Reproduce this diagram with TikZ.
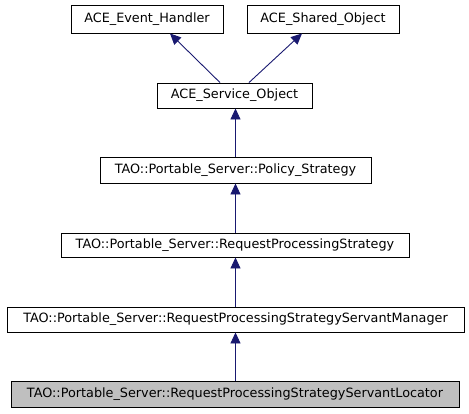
\documentclass[tikz,border=0pt]{standalone}
\usepackage{fontspec}
\setmainfont{DejaVu Sans}
\usetikzlibrary{arrows.meta,positioning}
\definecolor{edgeblue}{HTML}{191970}
\definecolor{leafgray}{HTML}{BFBFBF}

\begin{document}
\begin{tikzpicture}[x=1pt, y=-1pt,
    cls/.style={draw, line width=0.9pt, inner sep=0pt, minimum height=25pt,
      font=\fontsize{12.8}{14}\selectfont},
    inh/.style={draw=edgeblue, line width=0.9pt,
      {Triangle[width=10pt,length=11pt,fill=edgeblue]}-}]
  \useasboundingbox (0,0) rectangle (469,413);
  \node [cls, minimum width=152pt, minimum height=28pt] (evh) at (147,19) {ACE\_Event\_Handler};
  \node [cls, minimum width=152pt, minimum height=28pt] (sho) at (323,19) {ACE\_Shared\_Object};
  \node [cls, minimum width=155pt] (svc) at (234.5,95.5) {ACE\_Service\_Object};
  \node [cls, minimum width=271pt, minimum height=26pt] (pol) at (235.5,170) {TAO::Portable\_Server::Policy\_Strategy};
  \node [cls, minimum width=348pt, minimum height=24pt] (rps) at (235,245) {TAO::Portable\_Server::RequestProcessingStrategy};
  \node [cls, minimum width=457pt] (rpsm) at (235.5,319.5) {TAO::Portable\_Server::RequestProcessingStrategyServantManager};
  \node [cls, fill=leafgray, minimum width=448pt, minimum height=26pt] (rpsl) at (235,394) {TAO::Portable\_Server::RequestProcessingStrategyServantLocator};
  % inheritance edges
  \draw [inh] ([xshift=23pt]evh.south) -- ([xshift=-14.5pt]svc.north);
  \draw [inh] ([xshift=-21pt]sho.south) -- ([xshift=14.5pt]svc.north);
  \draw [inh] (svc.south -| 235.5,0) -- (pol.north -| 235.5,0);
  \draw [inh] (pol.south -| 235.5,0) -- (rps.north -| 235.5,0);
  \draw [inh] (rps.south -| 235.5,0) -- (rpsm.north -| 235.5,0);
  \draw [inh] (rpsm.south -| 235.5,0) -- (rpsl.north -| 235.5,0);
\end{tikzpicture}
\end{document}
